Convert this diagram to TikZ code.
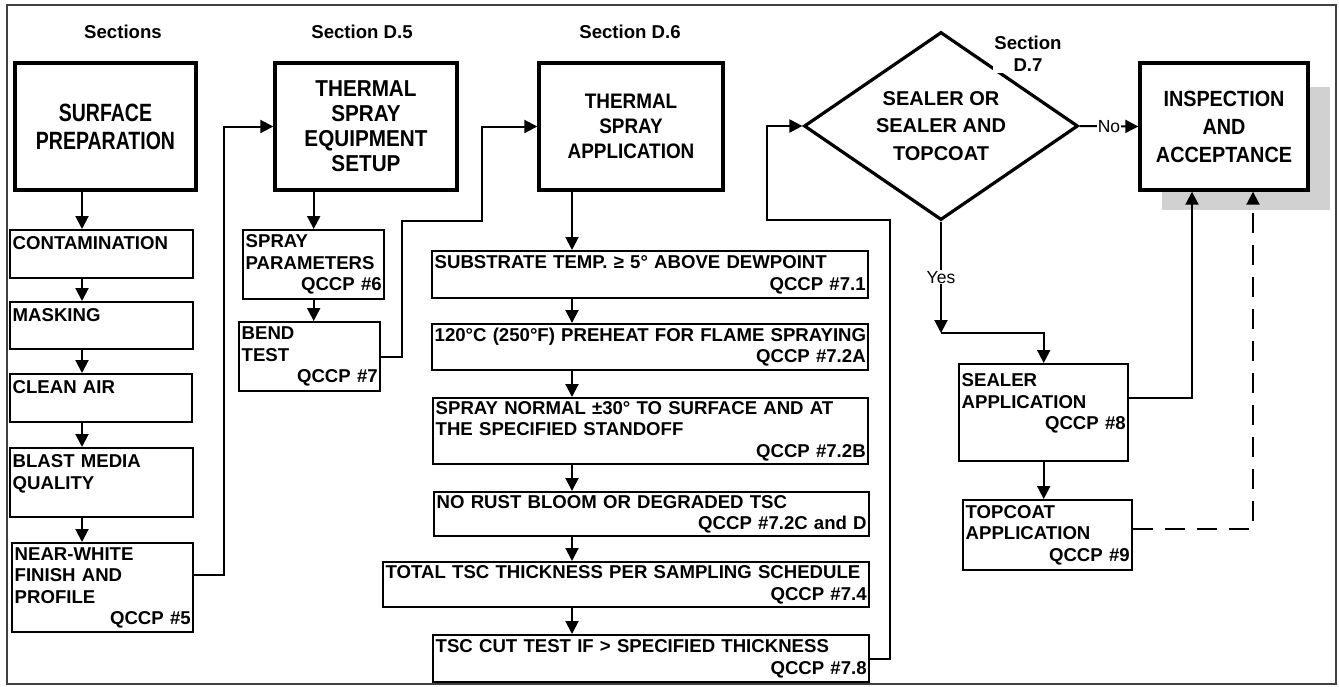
\documentclass[tikz,border=0pt]{standalone}
\usepackage{fontspec}
\setmainfont{Liberation Sans}
\newfontfamily\condsans[FakeStretch=0.78]{Liberation Sans}
\newfontfamily\narrowsans[FakeStretch=0.9]{Liberation Sans}
\usetikzlibrary{arrows.meta,shapes.geometric}
\begin{document}
\begin{tikzpicture}[x=1pt, y=-1pt, font=\bfseries\fontsize{18.6}{21.5}\selectfont]
    \tikzset{
      stepbox/.style={draw, line width=2.4pt, anchor=north west, align=left,
                      inner xsep=2.5pt, inner ysep=1pt},
      bigbox/.style={draw, line width=3.4pt, fill=white, align=center,
                     minimum height=127pt},
      head/.style={inner sep=1pt},
      arr/.style={line width=2pt, -{Triangle[width=13pt,length=13pt]}},
      yn/.style={fill=white, inner sep=1pt,
                 font=\mdseries\fontsize{17.5}{20}\selectfont},
    }
    \useasboundingbox (0,0) rectangle (1339,686);
    \draw[line width=1.5pt, black!75] (7,5) rectangle (1336,684);

    \node[head] (hsec) at (123,32) {Sections};
    \node[head] (hd5) at (362,32) {Section D.5};
    \node[head] (hd6) at (630,32) {Section D.6};

    \node[bigbox, minimum width=181pt, line width=3.8pt,
          font=\condsans\bfseries\fontsize{25}{28}\selectfont]
          (surf) at (105.5,126.5) {SURFACE\\PREPARATION};
    \node[stepbox, text width=178pt, minimum height=48pt] (cont) at (9,229) {CONTAMINATION\\\mbox{}};
    \node[stepbox, text width=178pt, minimum height=47pt] (mask) at (9,301) {MASKING\\\mbox{}};
    \node[stepbox, text width=177pt, minimum height=48pt] (air) at (9,373) {CLEAN AIR\\\mbox{}};
    \node[stepbox, text width=178pt, minimum height=69pt] (blast) at (9,447) {BLAST MEDIA\\QUALITY\\\mbox{}};
    \node[stepbox, text width=176pt, minimum height=89pt] (white) at (11,542)
          {NEAR-WHITE\\FINISH AND\\PROFILE\\\hfill QCCP \#5};

    \node[bigbox, minimum width=182pt,
          font=\narrowsans\bfseries\fontsize{23}{25}\selectfont]
          (tses) at (366,126.5) {THERMAL\\SPRAY\\EQUIPMENT\\SETUP};
    \node[stepbox, text width=136pt, minimum height=69pt] (spar) at (242,229)
          {SPRAY\\PARAMETERS\\\hfill QCCP \#6};
    \node[stepbox, text width=136pt, minimum height=69pt] (bend) at (238,321)
          {BEND\\TEST\\\hfill QCCP \#7};

    \node[bigbox, minimum width=184pt,
          font=\narrowsans\bfseries\fontsize{21}{25}\selectfont]
          (tsa) at (631,126.5) {THERMAL\\SPRAY\\APPLICATION};
    \node[stepbox, text width=431pt, minimum height=47pt] (b1) at (431,250)
          {SUBSTRATE TEMP. ≥ 5° ABOVE DEWPOINT\\\hfill QCCP \#7.1};
    \node[stepbox, text width=431pt, minimum height=46pt] (b2) at (431,323)
          {\mbox{120°C (250°F) PREHEAT FOR FLAME SPRAYING}\\\hfill QCCP \#7.2A};
    \node[stepbox, text width=430pt, minimum height=66pt] (b3) at (432,397)
          {SPRAY NORMAL ±30° TO SURFACE AND AT\\THE SPECIFIED STANDOFF\\\hfill QCCP \#7.2B};
    \node[stepbox, text width=430pt, minimum height=44pt] (b4) at (433,491)
          {NO RUST BLOOM OR DEGRADED TSC\\\hfill QCCP \#7.2C and D};
    \node[stepbox, text width=481pt, minimum height=45pt] (b5) at (382,561)
          {\mbox{TOTAL TSC THICKNESS PER SAMPLING SCHEDULE}\\\hfill QCCP \#7.4};
    \node[stepbox, text width=431pt, minimum height=47pt] (b6) at (432,634)
          {TSC CUT TEST IF > SPECIFIED THICKNESS\\\hfill QCCP \#7.8};

    \node[draw, diamond, line width=3.2pt, shape aspect=1.46, minimum width=274pt,
          minimum height=188pt, inner sep=0pt, align=center,
          font=\bfseries\fontsize{20}{27.5}\selectfont]
          (dia) at (941,126) {SEALER OR\\SEALER AND\\TOPCOAT};
    \node[head, fill=white, align=center, font=\bfseries\fontsize{18.6}{22}\selectfont]
          (hd7) at (1028,54) {Section\\D.7};

    \fill[black!18] (1162,87) rectangle (1330,210);
    \node[bigbox, minimum width=168pt,
          font=\narrowsans\bfseries\fontsize{22}{28}\selectfont]
          (insp) at (1224,126.5) {INSPECTION\\AND\\ACCEPTANCE};
    \node[stepbox, text width=164pt, minimum height=97pt] (seal) at (958,363)
          {SEALER\\APPLICATION\\\hfill QCCP \#8\\\mbox{}};
    \node[stepbox, text width=164pt, minimum height=70pt] (topc) at (962,499)
          {TOPCOAT\\APPLICATION\\\hfill QCCP \#9};

    \coordinate (colL) at (82,0);
    \coordinate (colM) at (572,0);
    \draw[arr] (surf.south -| colL) -- (cont.north -| colL);
    \draw[arr] (cont.south -| colL) -- (mask.north -| colL);
    \draw[arr] (mask.south -| colL) -- (air.north -| colL);
    \draw[arr] (air.south -| colL) -- (blast.north -| colL);
    \draw[arr] (blast.south -| colL) -- (white.north -| colL);

    \coordinate (jwa) at (224,575);
    \draw[arr] (white.east |- jwa) -- (jwa) |- (tses.west);
    \draw[arr] (tses.south -| spar.north) -- (spar.north);
    \draw[arr] (spar.south) -- (spar.south |- bend.north);

    \coordinate (jba) at (402,221);
    \coordinate (jbb) at (482,221);
    \draw[arr] (bend.east) -| (jba) -- (jbb) |- (tsa.west);
    \draw[arr] (tsa.south -| colM) -- (b1.north -| colM);
    \draw[arr] (b1.south -| colM) -- (b2.north -| colM);
    \draw[arr] (b2.south -| colM) -- (b3.north -| colM);
    \draw[arr] (b3.south -| colM) -- (b4.north -| colM);
    \draw[arr] (b4.south -| colM) -- (b5.north -| colM);
    \draw[arr] (b5.south -| colM) -- (b6.north -| colM);

    \coordinate (jca) at (890,220);
    \coordinate (jcb) at (767,220);
    \draw[arr] (b6.east) -| (jca) -- (jcb) |- (dia.west);
    \draw[arr] (dia.east) -- node[yn] {No} (insp.west);

    \coordinate (jy) at (941,333);
    \draw[arr] (dia.south) -- node[yn] {Yes} (jy);
    \draw[arr] (jy) -| (seal.north);
    \coordinate (jsa) at (1192,398);
    \draw[arr] (seal.east |- jsa) -- (jsa) -- (jsa |- insp.south);
    \draw[arr] (seal.south) -- (seal.south |- topc.north);
    \coordinate (jta) at (1253,529);
    \draw[arr, dash pattern=on 20pt off 12pt] (topc.east |- jta) -- (jta) -- (jta |- insp.south);
  \end{tikzpicture}
\end{document}
